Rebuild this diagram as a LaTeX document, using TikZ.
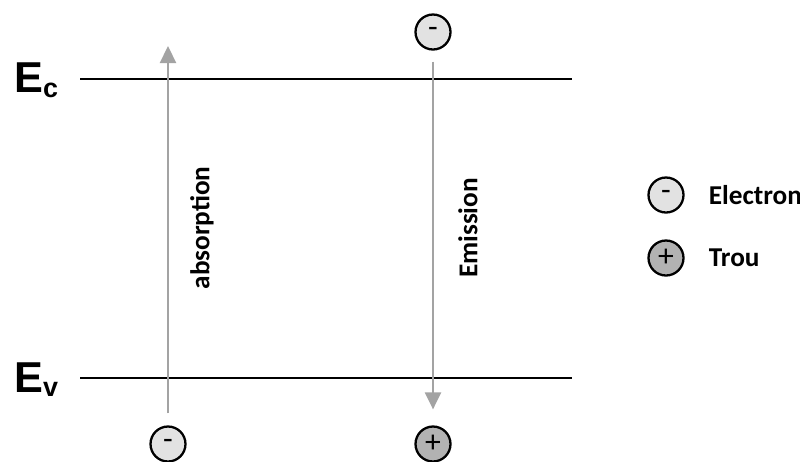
\documentclass[tikz,border=0pt]{standalone}
\usepackage{fontspec}
\setmainfont{Carlito}
\newfontfamily\arialfont{Liberation Sans}
\usetikzlibrary{arrows.meta, positioning}

\definecolor{fleche}{HTML}{A3A3A3}
\definecolor{gris_e}{HTML}{E2E2E2}
\definecolor{gris_h}{HTML}{B2B2B2}

\begin{document}
\begin{tikzpicture}[x=0.02cm, y=-0.02cm,
		every node/.style={font=\bfseries\fontsize{15.5}{18}\selectfont},
		particule/.style={circle, draw=black, line width=1.3pt, minimum size=0.7cm, inner sep=0pt,
			font=\fontsize{18}{20}\selectfont},
		electron/.style={particule, fill=gris_e},
		trou/.style={particule, fill=gris_h},
		niveau/.style={black, line width=1.1pt},
		transition/.style={fleche, line width=1.3pt, -{Triangle[length=0.34cm, width=0.32cm]}},
		bande/.style={anchor=base west, inner sep=0pt, font=\arialfont\bfseries\fontsize{24.6}{26}\selectfont}]
	
	\useasboundingbox (0,0) rectangle (800,461);
	
	% Niveaux d'energie
	\coordinate (Ec_g) at (80,79);
	\coordinate (Ec_d) at (572,79);
	\coordinate (Ev_g) at (80,378);
	\coordinate (Ev_d) at (572,378);
	\draw[niveau] (Ec_g) -- (Ec_d);
	\draw[niveau] (Ev_g) -- (Ev_d);
	\node[bande] (Ec_lab) at (14,92) {E\raisebox{-0.1cm}{\fontsize{15.3}{16}\selectfont c}};
	\node[bande] (Ev_lab) at (14,392) {E\raisebox{-0.08cm}{\fontsize{15.3}{16}\selectfont v}};
	
	% Particules
	\node[electron] (e_haut) at (433,32) {-};
	\node[electron] (e_bas)  at (168,444) {-};
	\node[trou]     (h_bas)  at (433,444) {+};
	\coordinate (abs_tip) at (168,46);
	
	% Transitions
	\draw[transition, shorten <=0.24cm] (e_bas) -- (abs_tip);
	\draw[transition, shorten <=0.22cm, shorten >=0.32cm] (e_haut) -- (h_bas);
	\node[rotate=90] (abs_lab) at (202,228) {absorption};
	\node[rotate=90] (em_lab)  at (468,228) {Emission};
	
	% Legende
	\node[electron] (leg_e) at (666,195) {-};
	\node[trou]     (leg_h) at (666,258) {+};
	\node[right=0.36cm of leg_e] (leg_e_txt) {Electron};
	\node[right=0.36cm of leg_h] (leg_h_txt) {Trou};
	
\end{tikzpicture}
\end{document}
